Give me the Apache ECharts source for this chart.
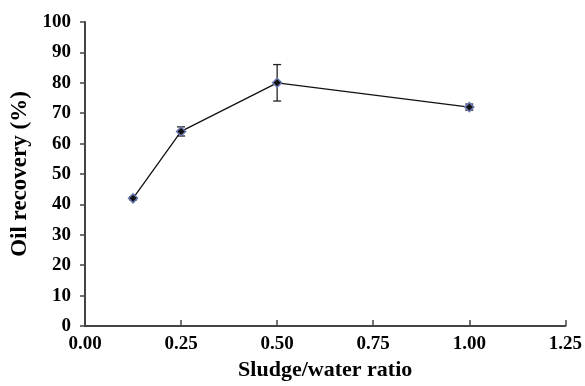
<!DOCTYPE html>
<html>
<head>
<meta charset="utf-8">
<script src="https://cdn.jsdelivr.net/npm/echarts@6/dist/echarts.min.js"></script>
<style>
  html, body { margin: 0; padding: 0; background: #fff; }
  #chart { width: 585px; height: 386px; }
</style>
</head>
<body>
<div id="chart"></div>
<script>
const ratios = [0.125, 0.25, 0.5, 1.0];
const recovery = [42, 64, 80, 72];
const errLow = [41.5, 62.5, 74, 71];
const errHigh = [42.5, 65.5, 86, 73];

const font = 'Liberation Serif';
const chart = echarts.init(document.getElementById('chart'));

const axisLine = { show: true, lineStyle: { color: '#444', width: 2 } };
const labelStyle = { color: '#000', fontFamily: font, fontWeight: 'bold', fontSize: 19 };
const nameStyle = { color: '#000', fontFamily: font, fontWeight: 'bold', fontSize: 22 };

chart.setOption({
  animation: false,
  grid: { left: 85, right: 19, top: 22, bottom: 59 },
  xAxis: {
    type: 'value',
    min: 0, max: 1.25, interval: 0.25,
    name: 'Sludge/water ratio',
    nameLocation: 'middle',
    nameGap: 33,
    nameTextStyle: nameStyle,
    axisLine,
    axisTick: { show: true, inside: true, length: 6, lineStyle: { color: '#444', width: 1.5 } },
    splitLine: { show: false },
    axisLabel: Object.assign({}, labelStyle, { margin: 9, formatter: v => v.toFixed(2) })
  },
  yAxis: {
    type: 'value',
    min: 0, max: 100, interval: 10,
    name: 'Oil recovery (%)',
    nameLocation: 'middle',
    nameGap: 50,
    nameTextStyle: Object.assign({}, nameStyle, { fontSize: 23 }),
    axisLine,
    axisTick: { show: true, inside: false, length: 5, lineStyle: { color: '#444', width: 1.5 } },
    splitLine: { show: false },
    axisLabel: Object.assign({}, labelStyle, { margin: 14 })
  },
  series: [
    {
      type: 'line',
      data: ratios.map((x, i) => [x, recovery[i]]),
      symbol: 'diamond',
      symbolSize: 9,
      itemStyle: { color: '#111', borderColor: '#6a78b0', borderWidth: 1.5 },
      lineStyle: { color: '#111', width: 1.3 },
      z: 3
    },
    {
      type: 'custom',
      data: ratios.map((x, i) => [x, errLow[i], errHigh[i]]),
      renderItem: (params, api) => {
        const lo = api.coord([api.value(0), api.value(1)]);
        const hi = api.coord([api.value(0), api.value(2)]);
        const w = 4;
        const style = { stroke: '#222', lineWidth: 1.3 };
        return {
          type: 'group',
          children: [
            { type: 'line', shape: { x1: hi[0], y1: hi[1], x2: lo[0], y2: lo[1] }, style },
            { type: 'line', shape: { x1: hi[0] - w, y1: hi[1], x2: hi[0] + w, y2: hi[1] }, style },
            { type: 'line', shape: { x1: lo[0] - w, y1: lo[1], x2: lo[0] + w, y2: lo[1] }, style }
          ]
        };
      },
      z: 2
    }
  ]
});
</script>
</body>
</html>
